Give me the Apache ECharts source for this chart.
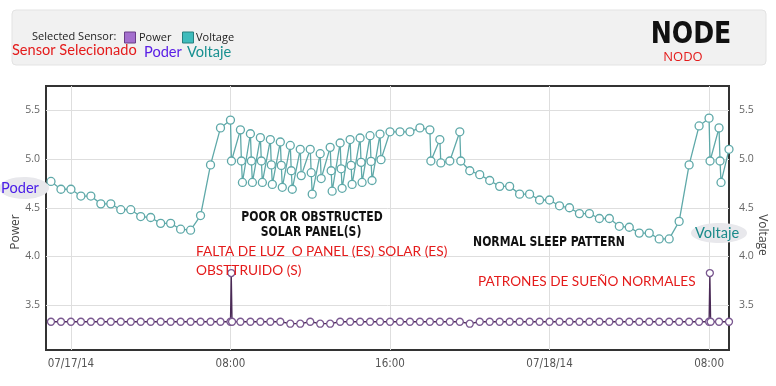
<!DOCTYPE html>
<html><head><meta charset="utf-8">
<script src="https://cdn.jsdelivr.net/npm/echarts@6/dist/echarts.min.js"></script>
<style>html,body{margin:0;padding:0;background:#fff}#c{width:776px;height:386px}</style>
</head><body><div id="c"></div>
<script>
// hours since 07/17/14 00:00
const xTickHours = [0, 8, 16, 24, 32];
const xTickLabels = ['07/17/14', '08:00', '16:00', '07/18/14', '08:00'];
const yTicks = [3.5, 4.0, 4.5, 5.0, 5.5];

const voltageHours = [
  -1, -0.5, 0, 0.5, 1, 1.5, 2, 2.5, 3, 3.5, 4, 4.5, 5, 5.5, 6, 6.5, 7, 7.5,
  8, 8.05,
  8.5, 8.55, 8.6, 9, 9.05, 9.1, 9.5, 9.55, 9.6, 10, 10.05, 10.1,
  10.5, 10.55, 10.6, 11, 11.05, 11.1, 11.5, 11.55, 12, 12.05, 12.1,
  12.5, 12.55, 13, 13.05, 13.1, 13.5, 13.55, 13.6, 14, 14.05, 14.1,
  14.5, 14.55, 14.6, 15, 15.05, 15.1, 15.5, 15.55,
  16, 16.5, 17, 17.5, 18, 18.05, 18.5, 18.55, 19, 19.5, 19.55,
  20, 20.5, 21, 21.5, 22, 22.5, 23, 23.5, 24, 24.5, 25, 25.5, 26, 26.5, 27,
  27.5, 28, 28.5, 29, 29.5, 30, 30.5, 31, 31.5, 32, 32.05, 32.5, 32.55, 32.6, 33
];
const voltageValues = [
  4.77, 4.69, 4.69, 4.62, 4.62, 4.54, 4.54, 4.48, 4.48, 4.41, 4.40, 4.34, 4.34, 4.28, 4.27, 4.42, 4.94, 5.32,
  5.40, 4.98,
  5.30, 4.98, 4.76, 5.26, 4.98, 4.76, 5.22, 4.98, 4.76, 5.20, 4.94, 4.74,
  5.175, 4.935, 4.71, 5.14, 4.88, 4.69, 5.10, 4.83, 5.10, 4.86, 4.64,
  5.055, 4.80, 5.12, 4.88, 4.67, 5.165, 4.90, 4.70, 5.20, 4.935, 4.74,
  5.216, 4.966, 4.76, 5.24, 4.976, 4.78, 5.257, 4.994,
  5.28, 5.28, 5.28, 5.32, 5.30, 4.98, 5.20, 4.96, 4.98, 5.28, 4.98,
  4.88, 4.84, 4.78, 4.72, 4.72, 4.64, 4.64, 4.58, 4.58, 4.52, 4.50, 4.44, 4.44, 4.39, 4.39,
  4.31, 4.30, 4.24, 4.24, 4.18, 4.18, 4.36, 4.94, 5.34, 5.42, 4.98, 5.32, 4.98, 4.76, 5.10
];

const powerHours = [
  -1, -0.5, 0, 0.5, 1, 1.5, 2, 2.5, 3, 3.5, 4, 4.5, 5, 5.5, 6, 6.5, 7, 7.5,
  8, 8.04, 8.08, 8.5, 9, 9.5, 10, 10.5, 11, 11.5, 12, 12.5, 13, 13.5, 14, 14.5, 15, 15.5,
  16, 16.5, 17, 17.5, 18, 18.5, 19, 19.5, 20, 20.5, 21, 21.5, 22, 22.5, 23, 23.5,
  24, 24.5, 25, 25.5, 26, 26.5, 27, 27.5, 28, 28.5, 29, 29.5, 30, 30.5, 31, 31.5,
  32, 32.04, 32.08, 32.5, 33
];
const powerValues = [
  3.33, 3.33, 3.33, 3.33, 3.33, 3.33, 3.33, 3.33, 3.33, 3.33, 3.33, 3.33, 3.33, 3.33, 3.33, 3.33, 3.33, 3.33,
  3.33, 3.83, 3.33, 3.33, 3.33, 3.33, 3.33, 3.33, 3.31, 3.31, 3.33, 3.31, 3.31, 3.33, 3.33, 3.33, 3.33, 3.33,
  3.33, 3.33, 3.33, 3.33, 3.33, 3.33, 3.33, 3.33, 3.31, 3.33, 3.33, 3.33, 3.33, 3.33, 3.33, 3.33,
  3.33, 3.33, 3.33, 3.33, 3.33, 3.33, 3.33, 3.33, 3.33, 3.33, 3.33, 3.33, 3.33, 3.33, 3.33, 3.33,
  3.33, 3.83, 3.33, 3.33, 3.33
];

const zip = (a, b) => a.map((v, i) => [v, b[i]]);
const chart = echarts.init(document.getElementById('c'), null, {renderer: 'canvas'});
const axisFont = {fontFamily: 'Open Sans', fontSize: 10.5, color: '#666'};
const redFont = 'Lato';
const boldFont = 'bold 14px "DejaVu Sans Condensed"';

chart.setOption({
  animation: false,
  backgroundColor: '#fff',
  grid: {left: 46, right: 47, top: 86, bottom: 36, show: true, borderColor: '#333', borderWidth: 2, backgroundColor: 'transparent'},
  xAxis: {
    type: 'value', min: -1.25, max: 33,
    axisLine: {show: false},
    axisTick: {show: false, customValues: xTickHours},
    axisLabel: {customValues: xTickHours, margin: 8, fontFamily: 'Liberation Sans Narrow, DejaVu Sans Condensed', fontSize: 11.5, color: '#555',
      formatter: v => xTickLabels[xTickHours.indexOf(v)]},
    splitLine: {show: true, lineStyle: {color: '#dedede', width: 1}}
  },
  yAxis: [
    {type: 'value', position: 'left', min: 3.04, max: 5.75,
      axisLine: {show: false}, axisTick: {show: false, customValues: yTicks},
      axisLabel: Object.assign({customValues: yTicks, margin: 6, formatter: v => v.toFixed(1)}, axisFont),
      splitLine: {show: true, lineStyle: {color: '#dedede', width: 1}}},
    {type: 'value', position: 'right', min: 3.04, max: 5.75,
      axisLine: {show: false}, axisTick: {show: false, customValues: yTicks},
      axisLabel: Object.assign({customValues: yTicks, margin: 10, formatter: v => v.toFixed(1)}, axisFont),
      splitLine: {show: false}}
  ],
  series: [
    {name: 'Power', type: 'line', yAxisIndex: 0, data: zip(powerHours, powerValues),
      symbol: 'circle', symbolSize: 7, showAllSymbol: true,
      lineStyle: {color: '#4a2a56', width: 1.3},
      itemStyle: {color: '#fff', borderColor: '#7a5890', borderWidth: 1.3}, z: 3},
    {name: 'Voltage', type: 'line', yAxisIndex: 1, data: zip(voltageHours, voltageValues),
      symbol: 'circle', symbolSize: 8, showAllSymbol: true,
      lineStyle: {color: '#5fa9a9', width: 1.3},
      itemStyle: {color: '#fff', borderColor: '#5fa9a9', borderWidth: 1.3}, z: 4}
  ],
  graphic: [
    {type: 'rect', z: 0, shape: {x: 12, y: 10, width: 754, height: 55, r: 4}, style: {fill: '#f1f1f1', stroke: '#e3e3e3', lineWidth: 1}},
    {type: 'text', style: {text: 'Selected Sensor:', x: 32, y: 37, verticalAlign: 'middle', font: '11px "Open Sans"', fill: '#222'}},
    {type: 'rect', shape: {x: 124.5, y: 32, width: 11, height: 11}, style: {fill: '#a46fce', stroke: '#6a3e88', lineWidth: 1}},
    {type: 'text', style: {text: 'Power', x: 139, y: 38, verticalAlign: 'middle', font: '11px "Open Sans"', fill: '#222'}},
    {type: 'rect', shape: {x: 182.5, y: 32, width: 11, height: 11}, style: {fill: '#3fbcbc', stroke: '#27807f', lineWidth: 1}},
    {type: 'text', style: {text: 'Voltage', x: 196, y: 38, verticalAlign: 'middle', font: '11px "Open Sans"', fill: '#222'}},
    {type: 'text', style: {text: 'Sensor Selecionado', x: 12, y: 50, verticalAlign: 'middle', font: '14.6px ' + redFont, fill: '#e41b1b'}},
    {type: 'text', style: {text: 'Poder', x: 144, y: 52, verticalAlign: 'middle', font: '14.6px ' + redFont, fill: '#5a1ee6'}},
    {type: 'text', style: {text: 'Voltaje', x: 187, y: 52, verticalAlign: 'middle', font: '14.6px ' + redFont, fill: '#189090'}},
    {type: 'text', x: 691, y: 35, scaleX: 0.84, style: {text: 'NODE', align: 'center', verticalAlign: 'middle', font: '900 30px "DejaVu Sans"', fill: '#111'}},
    {type: 'text', style: {text: 'NODO', x: 683, y: 57, align: 'center', verticalAlign: 'middle', font: '13px "Open Sans"', fill: '#e41b1b'}},
    {type: 'text', x: 16, y: 232, rotation: Math.PI / 2, style: {text: 'Power', align: 'center', verticalAlign: 'middle', font: '12px "Open Sans"', fill: '#444'}},
    {type: 'text', x: 762, y: 235, rotation: -Math.PI / 2, style: {text: 'Voltage', align: 'center', verticalAlign: 'middle', font: '12px "Open Sans"', fill: '#444'}},
    {type: 'ellipse', z: 10, shape: {cx: 24, cy: 188, rx: 25, ry: 11}, style: {fill: '#e8e8ec'}},
    {type: 'text', z: 11, style: {text: 'Poder', x: 20, y: 188, align: 'center', verticalAlign: 'middle', font: '14.6px ' + redFont, fill: '#4a1ee8'}},
    {type: 'ellipse', z: 10, shape: {cx: 719, cy: 233, rx: 28, ry: 10}, style: {fill: '#e8e8ec'}},
    {type: 'text', z: 11, style: {text: 'Voltaje', x: 717, y: 233, align: 'center', verticalAlign: 'middle', font: '14.6px ' + redFont, fill: '#1a8a8a'}},
    {type: 'text', z: 11, x: 312, y: 217, scaleX: 0.86, style: {text: 'POOR OR OBSTRUCTED', align: 'center', verticalAlign: 'middle', font: boldFont, fill: '#111'}},
    {type: 'text', z: 11, x: 311, y: 232, scaleX: 0.86, style: {text: 'SOLAR PANEL(S)', align: 'center', verticalAlign: 'middle', font: boldFont, fill: '#111'}},
    {type: 'text', z: 11, x: 549, y: 242, scaleX: 0.86, style: {text: 'NORMAL SLEEP PATTERN', align: 'center', verticalAlign: 'middle', font: boldFont, fill: '#111'}},
    {type: 'text', z: 11, style: {text: 'FALTA DE LUZ  O PANEL (ES) SOLAR (ES)', x: 196, y: 252, verticalAlign: 'middle', font: '13.7px ' + redFont, fill: '#e41b1b'}},
    {type: 'text', z: 11, style: {text: 'OBSTTRUIDO (S)', x: 196, y: 271, verticalAlign: 'middle', font: '13.7px ' + redFont, fill: '#e41b1b'}},
    {type: 'text', z: 11, style: {text: 'PATRONES DE SUEÑO NORMALES', x: 478, y: 282, verticalAlign: 'middle', font: '13.6px ' + redFont, fill: '#e41b1b'}}
  ]
});
</script></body></html>
